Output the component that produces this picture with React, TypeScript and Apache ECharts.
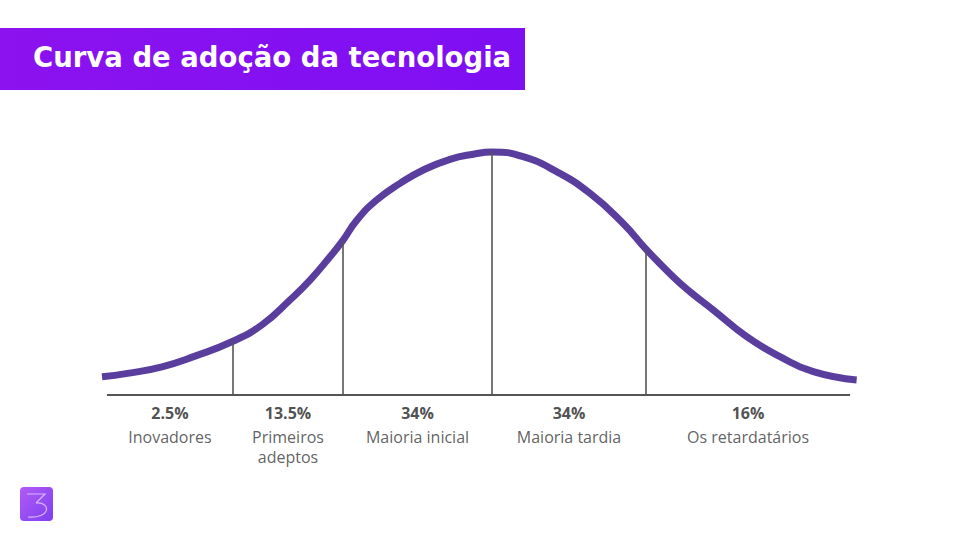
import React, { useEffect, useRef } from "react";
import * as echarts from "echarts";

// Bell curve: x in standard deviations from the mean, y as % of peak height
const curveX = [-2.6, -2.43, -2.2, -1.98, -1.735, -1.535, -1.347, -1.213, -1.08, -1.0, -0.9, -0.77, -0.613, -0.458, -0.28, -0.125, 0, 0.207, 0.431, 0.653, 0.873, 1.031, 1.207, 1.32, 1.475, 1.698, 1.92, 2.142, 2.431];
const curveY = [7.5, 8.9, 11.6, 16.0, 21.9, 28.8, 39.1, 47.3, 56.9, 63.1, 72.0, 80.2, 87.1, 92.6, 97.0, 99.1, 100, 98.1, 91.9, 83.0, 70.7, 59.7, 48.7, 42.5, 35.0, 24.0, 15.8, 9.6, 6.2];

// Segment boundaries along the baseline and divider heights (where they meet the curve)
const segmentEdges = [-2.567, -1.727, -0.993, 0, 1.027, 2.387];
const dividerTops = [22.0, 63.0, 100, 59.7];

const percents = ["2.5%", "13.5%", "34%", "34%", "16%"];
const groups = ["Inovadores", "Primeiros\nadeptos", "Maioria inicial", "Maioria tardia", "Os retardatários"];

const title = "Curva de adoção da tecnologia";

export default function App() {
  const ref = useRef<HTMLDivElement>(null);

  useEffect(() => {
    if (!ref.current) return;
    const chart = echarts.init(ref.current, undefined, { renderer: "svg" });

    const curveData = curveX.map((x, i) => [x, curveY[i]]);
    const dividers = dividerTops.map((top, i) => [
      { coord: [segmentEdges[i + 1], 0] },
      { coord: [segmentEdges[i + 1], top] },
    ]);
    const labelData = percents.map((p, i) => ({
      value: [(segmentEdges[i] + segmentEdges[i + 1]) / 2, 0],
      label: { formatter: `{p|${p}}\n{n|${groups[i].split("\n").join("}\n{n|")}}` },
    }));

    chart.setOption({
      animation: false,
      backgroundColor: "#ffffff",
      grid: { left: 42, right: 18, top: 152, bottom: 145 },
      xAxis: { type: "value", min: -3, max: 3, show: false },
      yAxis: { type: "value", min: 0, max: 100, show: false },
      series: [
        {
          type: "line",
          data: [
            [segmentEdges[0], 0],
            [segmentEdges[segmentEdges.length - 1], 0],
          ],
          symbol: "none",
          lineStyle: { color: "#555555", width: 2 },
          silent: true,
          z: 1,
          markLine: {
            symbol: "none",
            silent: true,
            label: { show: false },
            lineStyle: { color: "#555555", width: 1.6, type: "solid" },
            data: dividers,
          },
        },
        {
          type: "line",
          data: curveData,
          smooth: 0.5,
          symbol: "none",
          clip: false,
          lineStyle: { color: "#5a3e9e", width: 7, cap: "butt" },
          z: 3,
        },
        {
          type: "scatter",
          data: labelData,
          symbolSize: 0,
          silent: true,
          label: {
            show: true,
            position: "bottom",
            distance: 4,
            align: "center",
            rich: {
              p: { fontFamily: "Open Sans", fontWeight: "bold", fontSize: 16, color: "#222222", lineHeight: 28, align: "center" },
              n: { fontFamily: "Open Sans", fontSize: 16, color: "#383838", lineHeight: 20, align: "center" },
            },
          },
        },
      ],
      graphic: [
        {
          type: "rect",
          shape: { x: 0, y: 28, width: 525, height: 62 },
          style: {
            fill: new echarts.graphic.LinearGradient(0, 0, 1, 0, [
              { offset: 0, color: "#8c12ef" },
              { offset: 1, color: "#7e0ff3" },
            ]),
          },
          silent: true,
        },
        {
          type: "text",
          x: 33,
          y: 57,
          style: {
            text: title,
            fill: "#ffffff",
            font: "bold 27.5px 'DejaVu Sans'",
            verticalAlign: "middle",
          },
          silent: true,
        },
        {
          type: "rect",
          shape: { x: 20, y: 487, width: 33, height: 34, r: 4 },
          style: {
            fill: new echarts.graphic.LinearGradient(0, 0, 1, 1, [
              { offset: 0, color: "#b05cf4" },
              { offset: 1, color: "#7f3ef2" },
            ]),
          },
          silent: true,
        },
        {
          type: "polyline",
          shape: { points: [[27, 494], [45, 494], [36, 503]] },
          style: { stroke: "#d8b8ff", lineWidth: 1.2, fill: "none" },
          silent: true,
        },
        {
          type: "bezierCurve",
          shape: { x1: 36, y1: 503, cpx1: 52, cpy1: 502, cpx2: 50, cpy2: 519, x2: 28, y2: 517 },
          style: { stroke: "#d8b8ff", lineWidth: 1.2, fill: "none" },
          silent: true,
        },
      ],
    });

    return () => chart.dispose();
  }, []);

  return <div ref={ref} style={{ position: "fixed", left: 0, top: 0, width: 960, height: 540 }} />;
}
